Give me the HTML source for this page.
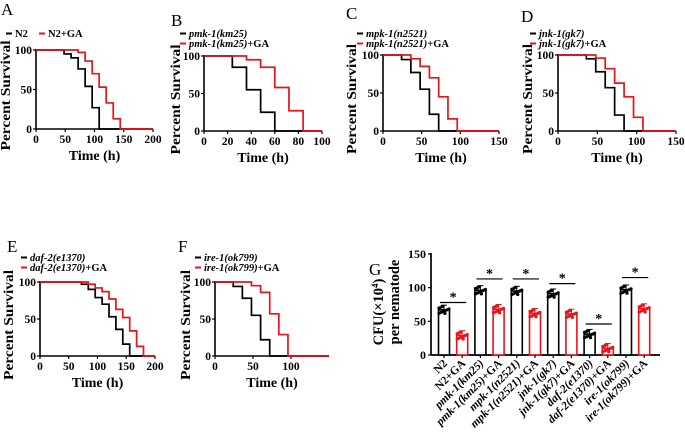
<!DOCTYPE html>
<html><head><meta charset="utf-8"><style>
body{margin:0;background:#fff}
svg{display:block}
text{font-family:"Liberation Serif",serif;font-weight:bold;fill:#000}
</style></head><body>
<svg id="fig" width="685" height="442" viewBox="0 0 685 442" xmlns="http://www.w3.org/2000/svg"></svg>
<script>
// Survival data (time steps, percent survival) for each panel
const aTimes=[0,48,60,72,84,96,108]; const aCtl=[100,95,90,76,54,27,0];
const aGaT=[0,72,84,96,108,120,132,144]; const aGa=[100,97,86,70,53,33,13,0];
const bTimes=[0,24,36,48,60]; const bCtl=[100,85,55,25,0];
const bGaT=[0,36,48,60,72,84]; const bGa=[100,95,85,58,27,0];
const cTimes=[0,24,36,48,60,72]; const cCtl=[100,94,77,55,22,0];
const cGaT=[0,36,48,60,72,84,96]; const cGa=[100,95,85,70,45,16,0];
const dTimes=[0,36,48,60,72,84]; const dCtl=[100,95,78,57,21,0];
const dGaT=[0,48,60,72,84,96,108]; const dGa=[100,96,82,63,45,18,0];
const eTimes=[0,72,84,96,108,120,132,144,156]; const eCtl=[100,97,90,79,70,53,36,16,0];
const eGaT=[0,84,96,108,120,132,144,156,168,180]; const eGa=[100,97,92,87,77,63,52,34,13,0];
const fTimes=[0,24,36,48,60,72]; const fCtl=[100,94,78,55,22,0];
const fGaT=[0,48,60,72,84,96]; const fGa=[100,95,86,57,29,0];
// Bar chart data
const gCats=["N2","N2+GA","pmk-1(km25)","pmk-1(km25)+GA","mpk-1(n2521)","mpk-1(n2521)+GA","jnk-1(gk7)","jnk-1(gk7)+GA","daf-2(e1370)","daf-2(e1370)+GA","ire-1(ok799)","ire-1(ok799)+GA"];
const gVals=[67,29,96,68,95,62,91,61,31,10,97,69];
const gSig=[78,113,113,106,46,115];
const gTicks=[0,50,100,150];

const NS="http://www.w3.org/2000/svg";
const svg=document.getElementById('fig');
function el(tag,attrs,parent,txt){const e=document.createElementNS(NS,tag);for(const k in attrs)e.setAttribute(k,attrs[k]);if(txt!==undefined)e.textContent=txt;(parent||svg).appendChild(e);return e;}

function survival(p){
  const g=el('g',{});
  
  
  const sx=v=>p.x0+(v/p.xmax)*(p.x1-p.x0);
  const sy=v=>p.y0+(100-v)/100*(p.y1-p.y0);
  const lab=el('text',{x:p.lx,y:p.ly,'font-size':17,style:'font-weight:normal'},g,p.letter);
  
  
  el('line',{x1:p.x0,y1:p.y0-1,x2:p.x0,y2:p.y1,stroke:'#000','stroke-width':1.6},g);
  el('line',{x1:p.x0,y1:p.y1,x2:p.x1,y2:p.y1,stroke:'#000','stroke-width':1.6},g);
  [0,50,100].forEach(v=>{
    el('line',{x1:p.x0-3,y1:sy(v),x2:p.x0,y2:sy(v),stroke:'#000','stroke-width':1.2},g);
    const t=el('text',{x:p.x0-4,y:sy(v)+4,'font-size':11.5,'text-anchor':'end'},g,v);
    
    
  });
  p.xt.forEach(v=>{
    el('line',{x1:sx(v),y1:p.y1,x2:sx(v),y2:p.y1+3,stroke:'#000','stroke-width':1.2},g);
    const t=el('text',{x:sx(v),y:p.y1+14,'font-size':11.5,'text-anchor':'middle'},g,v);
    
    
  });
  const xt=el('text',{x:(p.x0+p.x1)/2,y:p.y1+31,'font-size':14,'text-anchor':'middle'},g,'Time (h)');
  
  
  const yc=(p.y0+p.y1)/2+6;
  const yt=el('text',{x:p.yx,y:yc,'font-size':14,'text-anchor':'middle',textLength:110,lengthAdjust:'spacingAndGlyphs',transform:`rotate(-90 ${p.yx} ${yc})`},g,'Percent Survival');
  
  
  function step(ts,vs,col){
    let d=`M${sx(ts[0])},${sy(vs[0])}`;
    for(let i=1;i<ts.length;i++){d+=` L${sx(ts[i])},${sy(vs[i-1])} L${sx(ts[i])},${sy(vs[i])}`;}
    d+=` L${p.x1},${sy(vs[vs.length-1])}`;
    const s=el('path',{d:d,fill:'none',stroke:col,'stroke-width':1.7},g);
    
    
  }
  step(p.ct,p.cv,'#000'); step(p.gt,p.gv,'#e8141b');
  p.leg.forEach((L,i)=>{
    const col=i===0?'#000':'#e8141b';
    el('line',{x1:L[0],y1:L[1]-3.5,x2:L[0]+6,y2:L[1]-3.5,stroke:col,'stroke-width':2},g);
    const t=el('text',{x:L[0]+9,y:L[1],'font-size':10.5,'font-style':'italic'},g);
    
    
    const name=L[2];
    if(name.endsWith('+GA')){el('tspan',{},t,name.slice(0,-3));el('tspan',{'font-style':'normal'},t,'+GA');}
    else t.textContent=name;
    if(!p.italic){t.setAttribute('font-style','normal');}
  });
}

survival({letter:'A',lx:1,ly:15,x0:36,x1:153,y0:50,y1:129,xmax:200,xt:[0,50,100,150,200],yx:10,ct:aTimes,cv:aCtl,gt:aGaT,gv:aGa,italic:false,leg:[[6,37,'N2'],[39,37,'N2+GA']]});
survival({letter:'B',lx:171,ly:26,x0:204,x1:322,y0:56,y1:131,xmax:100,xt:[0,20,40,60,80,100],yx:180,ct:bTimes,cv:bCtl,gt:bGaT,gv:bGa,italic:true,leg:[[180,37,'pmk-1(km25)'],[180,47,'pmk-1(km25)+GA']]});
survival({letter:'C',lx:346,ly:19,x0:383,x1:499,y0:55,y1:131,xmax:150,xt:[0,50,100,150],yx:356,ct:cTimes,cv:cCtl,gt:cGaT,gv:cGa,italic:true,leg:[[357,37,'mpk-1(n2521)'],[357,47,'mpk-1(n2521)+GA']]});
survival({letter:'D',lx:521,ly:22,x0:558,x1:676,y0:55,y1:131,xmax:150,xt:[0,50,100,150],yx:532,ct:dTimes,cv:dCtl,gt:dGaT,gv:dGa,italic:true,leg:[[530,37,'jnk-1(gk7)'],[530,47,'jnk-1(gk7)+GA']]});
survival({letter:'E',lx:7,ly:252,x0:40,x1:155,y0:282,y1:356,xmax:200,xt:[0,50,100,150,200],yx:13,ct:eTimes,cv:eCtl,gt:eGaT,gv:eGa,italic:true,leg:[[21,261,'daf-2(e1370)'],[21,271,'daf-2(e1370)+GA']]});
survival({letter:'F',lx:178,ly:252,x0:215,x1:329,y0:282,y1:356,xmax:150,xt:[0,50,100],yx:190,ct:fTimes,cv:fCtl,gt:fGaT,gv:fGa,italic:true,leg:[[195,261,'ire-1(ok799)'],[195,271,'ire-1(ok799)+GA']]});

(function(){
  const g=el('g',{});
  
  
  const X0=431,X1=660,Y0=254,Y1=355,YMAX=150;
  const sy=v=>Y1-(v/YMAX)*(Y1-Y0);
  const cx=i=>444+i*18.2;
  const lab=el('text',{x:369,y:275,'font-size':17,style:'font-weight:normal'},g,'G');
  
  
  el('line',{x1:X0,y1:Y0-1,x2:X0,y2:Y1,stroke:'#000','stroke-width':1.7},g);
  el('line',{x1:X0,y1:Y1,x2:X1,y2:Y1,stroke:'#000','stroke-width':1.7},g);
  gTicks.forEach(v=>{
    el('line',{x1:X0-3,y1:sy(v),x2:X0,y2:sy(v),stroke:'#000','stroke-width':1.2},g);
    const t=el('text',{x:X0-5,y:sy(v)+4,'font-size':12,'text-anchor':'end'},g,v);
    
    
  });
  const yt1=el('text',{x:383,y:312,'font-size':14.5,'text-anchor':'middle',transform:'rotate(-90 383 312)'},g);
  
  
  el('tspan',{},yt1,'CFU(×10');el('tspan',{'font-size':9,dy:-5},yt1,'4');el('tspan',{dy:5},yt1,')');
  const yt2=el('text',{x:399,y:302,'font-size':14.5,'text-anchor':'middle',transform:'rotate(-90 399 302)'},g,'per nematode');
  
  
  gCats.forEach((c,i)=>{
    const col=i%2===0?'#000':'#e8141b';
    const x=cx(i),v=gVals[i];
    const b=el('rect',{x:x-5.5,y:sy(v),width:11,height:Y1-sy(v),fill:'#fff',stroke:col,'stroke-width':1.6},g);
    
    
    for(let k=0;k<10;k++){
      const dv=v+((k*37)%9-4)*1.3;
      el('circle',{cx:x-5+(k%6)*2,cy:sy(dv),r:1.6,fill:col},g);
    }
    el('line',{x1:x,y1:sy(v+7),x2:x,y2:sy(v-7),stroke:col,'stroke-width':1},g);
    el('line',{x1:x-3,y1:sy(v+7),x2:x+3,y2:sy(v+7),stroke:col,'stroke-width':1},g);
    el('line',{x1:x,y1:Y1,x2:x,y2:Y1+3,stroke:'#000','stroke-width':1.2},g);
    const t=el('text',{x:x+4,y:Y1+9,'font-size':11.5,'text-anchor':'end',transform:`rotate(-45 ${x+4} ${Y1+9})`},g);
    
    
    if(c==='N2'||c==='N2+GA'){t.textContent=c;}
    else{
      const base=c.endsWith('+GA')?c.slice(0,-3):c;
      el('tspan',{'font-style':'italic'},t,base);
      if(c.endsWith('+GA'))el('tspan',{},t,'+GA');
    }
  });
  gSig.forEach((s,j)=>{
    const x1=cx(2*j)-4,x2=cx(2*j+1)+4;
    const l=el('line',{x1:x1,y1:sy(s),x2:x2,y2:sy(s),stroke:'#000','stroke-width':1.2},g);
    
    
    const t=el('text',{x:(x1+x2)/2,y:sy(s)-1,'font-size':14,'text-anchor':'middle'},g,'*');
    
    
  });
})();
</script>
</body></html>
